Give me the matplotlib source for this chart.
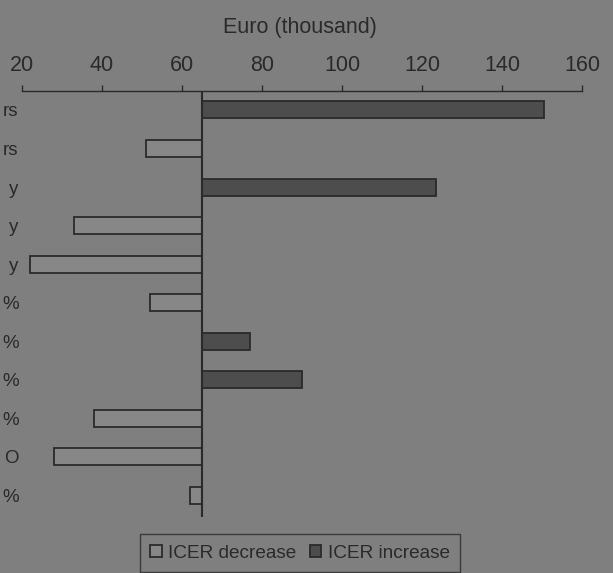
import matplotlib
matplotlib.use("Agg")
import matplotlib.pyplot as plt
from matplotlib.patches import Patch

plt.rcParams['font.family'] = ['Liberation Sans', 'DejaVu Sans']

labels = ["rs", "rs", "y", "y", "y", "%", "%", "%", "%", "O", "%"]
low_ends = [65, 51, 65, 33, 22, 52, 65, 65, 38, 28, 62]
high_ends = [150.5, 65, 123.5, 65, 65, 65, 77, 90, 65, 65, 65]
base = 65

bg = "#7f7f7f"
dark = "#2a2a2a"
c_dec = "#878787"
c_inc = "#4d4d4d"

fig = plt.figure(figsize=(6.13, 5.73), dpi=100, facecolor=bg)
W, H = 613, 573
ax = fig.add_axes([22 / W, 1 - 517 / H, (582 - 22) / W, (517 - 90.7) / H])
ax.set_facecolor(bg)

for i, (lo, hi) in enumerate(zip(low_ends, high_ends)):
    # bars left of the base value lower the ICER, right of it raise it
    if lo < base:
        ax.barh(i, base - lo, left=lo, height=0.44, color=c_dec,
                edgecolor=dark, linewidth=1.3)
    if hi > base:
        ax.barh(i, hi - base, left=base, height=0.44, color=c_inc,
                edgecolor=dark, linewidth=1.3)

ax.axvline(base, color=dark, linewidth=1.5)

ax.set_xlim(20, 160)
ax.set_ylim(10.56, -0.5)
ax.set_xticks(range(20, 161, 20))
ax.set_yticks(range(len(labels)))
ax.set_yticklabels(labels)

ax.xaxis.tick_top()
ax.tick_params(axis='x', direction='out', length=4, width=1, color=dark,
               labelsize=15.5, labelcolor=dark, pad=6.5)
ax.tick_params(axis='y', length=0, labelsize=13.5, labelcolor=dark, pad=2.5)
for s in ['left', 'right', 'bottom']:
    ax.spines[s].set_visible(False)
ax.spines['top'].set_color(dark)
ax.spines['top'].set_linewidth(1)

fig.text(300 / W, 1 - 28 / H, "Euro (thousand)", ha='center', va='center',
         fontsize=15.5, color=dark)

handles = [Patch(facecolor=c_dec, edgecolor=dark, linewidth=1.3, label="ICER decrease"),
           Patch(facecolor=c_inc, edgecolor=dark, linewidth=1.3, label="ICER increase")]
leg = fig.legend(handles=handles, loc='center', bbox_to_anchor=(300 / W, 1 - 553 / H),
                 ncol=2, frameon=True, fancybox=False, fontsize=13.7,
                 handlelength=0.6, handleheight=0.6, handletextpad=0.35,
                 columnspacing=0.7, borderpad=0.55, borderaxespad=0,
                 labelcolor=dark)
leg.get_frame().set_facecolor(bg)
leg.get_frame().set_edgecolor(dark)
leg.get_frame().set_linewidth(1)

fig.savefig("out.png", dpi=100, facecolor=bg)
